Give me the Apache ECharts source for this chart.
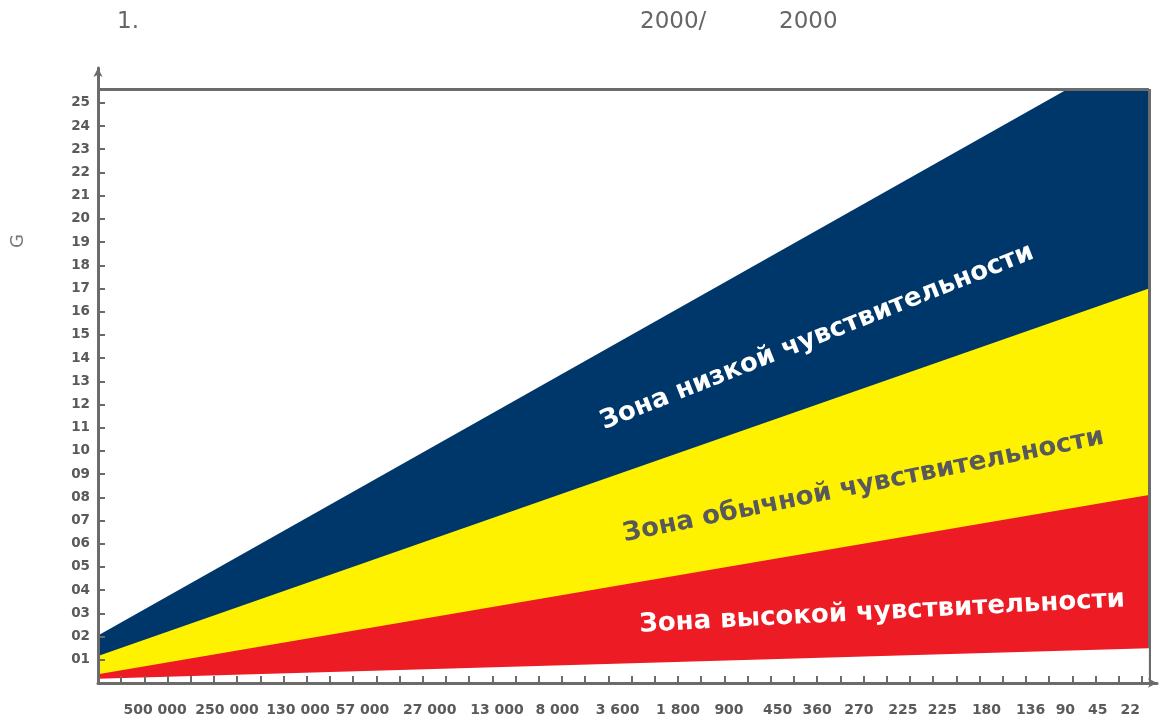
<!DOCTYPE html>
<html>
<head>
<meta charset="utf-8">
<title>Зоны чувствительности</title>
<script src="https://cdn.jsdelivr.net/npm/echarts@6.0.0/dist/echarts.min.js"></script>
<style>
  html, body { margin: 0; padding: 0; background: #fff; }
  #chart { width: 1160px; height: 722px; }
</style>
</head>
<body>
<div id="chart"></div>
<script>
// подписи оси X (стоят неравномерно, как на картинке)
const xLabels = ["500 000", "250 000", "130 000", "57 000", "27 000", "13 000", "8 000", "3 600", "1 800", "900",
  "450", "360", "270", "225", "225", "180", "136", "90", "45", "22"];
const xLabelPos = [2.46, 5.56, 8.62, 11.4, 14.3, 17.2, 19.8, 22.4, 25.0, 27.2,
  29.3, 31.0, 32.8, 34.7, 36.4, 38.3, 40.2, 41.7, 43.1, 44.5];
const yTicks = [1, 2, 3, 4, 5, 6, 7, 8, 9, 10, 11, 12, 13, 14, 15, 16, 17, 18, 19, 20, 21, 22, 23, 24, 25];

// границы зон (по краям графика)
const xEdges = [0, 45.3];
const highLower = [0.18, 1.5];    // низ красной зоны
const highUpper = [0.38, 8.1];    // красная / жёлтая
const normalUpper = [1.16, 17.0]; // жёлтая / синяя
const lowUpperX = [0, 41.8, 45.3];
const lowUpper = [2.05, 25.6, 25.6]; // верх синей зоны
const frameX = 45.3, frameY = 25.6;

function pairs(xs, ys) {
  return xs.map((x, i) => [x, ys[i]]);
}

let myChart = echarts.init(document.getElementById("chart"));

const labelColor = "#5a5a5a";
const axisColor = "#6b6b6b";

function zone(name, color, data, z) {
  return {
    name: name,
    type: "line",
    data: data,
    symbol: "none",
    lineStyle: { width: 0 },
    areaStyle: { color: color, opacity: 1, origin: "start" },
    silent: true,
    z: z
  };
}

// подпись зоны, привязанная к координатам графика
function zoneLabel(text, coord, angle, color) {
  return {
    symbol: "circle",
    symbolSize: 0,
    data: [{ coord: coord }],
    label: {
      show: true, position: "inside", formatter: text,
      rotate: angle, color: color, fontFamily: "DejaVu Sans", fontWeight: "bold", fontSize: 26
    }
  };
}

let option = {
  backgroundColor: "#fff",
  animation: false,
  grid: { left: 98, right: 3, top: 68, bottom: 39 },
  graphic: [
    { type: "text", left: 117, top: 11, style: { text: "1.", fontSize: 23, fontFamily: "DejaVu Sans", fill: "#666" } },
    { type: "text", left: 640, top: 11, style: { text: "2000/", fontSize: 23, fontFamily: "DejaVu Sans", fill: "#666" } },
    { type: "text", left: 779, top: 11, style: { text: "2000", fontSize: 23, fontFamily: "DejaVu Sans", fill: "#666" } },
    {
      type: "group",
      x: 18,
      y: 241,
      rotation: Math.PI / 2,
      children: [{
        type: "text",
        style: { text: "G", x: 0, y: 0, fontSize: 18, fontFamily: "DejaVu Sans", fill: "#777", align: "center", verticalAlign: "middle" }
      }]
    }
  ],
  xAxis: {
    type: "value",
    min: 0,
    max: 45.65,
    z: 5,
    axisLine: {
      show: true,
      symbol: ["none", "arrow"],
      symbolSize: [7, 9],
      lineStyle: { color: axisColor, width: 3 }
    },
    axisTick: {
      show: true,
      inside: true,
      length: 7,
      customValues: Array.from({ length: 45 }, (_, i) => i + 1),
      lineStyle: { color: axisColor, width: 2 }
    },
    axisLabel: {
      customValues: xLabelPos,
      formatter: function (v) {
        let i = xLabelPos.indexOf(v);
        return i >= 0 ? xLabels[i] : "";
      },
      margin: 20,
      color: labelColor,
      fontFamily: "DejaVu Sans",
      fontWeight: "bold",
      fontSize: 14
    },
    splitLine: { show: false }
  },
  yAxis: {
    type: "value",
    min: 0,
    max: 26.5,
    z: 5,
    axisLine: {
      show: true,
      symbol: ["none", "arrow"],
      symbolSize: [7, 9],
      lineStyle: { color: axisColor, width: 3 }
    },
    axisTick: {
      show: true,
      inside: true,
      length: 7,
      customValues: yTicks,
      lineStyle: { color: axisColor, width: 2 }
    },
    axisLabel: {
      customValues: yTicks,
      formatter: function (v) {
        return v < 10 ? "0" + v : "" + v;
      },
      margin: 8,
      color: labelColor,
      fontFamily: "DejaVu Sans",
      fontWeight: "bold",
      fontSize: 13.5
    },
    splitLine: { show: false }
  },
  series: [
    Object.assign(zone("Зона низкой чувствительности", "#00376b", pairs(lowUpperX, lowUpper), 2), {
      markPoint: zoneLabel("Зона низкой чувствительности", [31.0, 14.9], 21.7, "#fff")
    }),
    Object.assign(zone("Зона обычной чувствительности", "#fff200", pairs(xEdges, normalUpper), 3), {
      markPoint: zoneLabel("Зона обычной чувствительности", [33.0, 8.5], 11.5, "#58595b")
    }),
    Object.assign(zone("Зона высокой чувствительности", "#ed1c24", pairs(xEdges, highUpper), 4), {
      markPoint: zoneLabel("Зона высокой чувствительности", [33.8, 3.05], 3.0, "#fff")
    }),
    Object.assign(zone("", "#ffffff", pairs(xEdges, highLower), 5), {
      markLine: {
        silent: true,
        symbol: "none",
        label: { show: false },
        lineStyle: { color: axisColor, width: 3, type: "solid" },
        data: [
          [{ coord: [0, frameY] }, { coord: [frameX, frameY] }],
          [{ coord: [frameX, 0] }, { coord: [frameX, frameY] }]
        ]
      }
    })
  ]
};

myChart.setOption(option, true);
</script>
</body>
</html>
